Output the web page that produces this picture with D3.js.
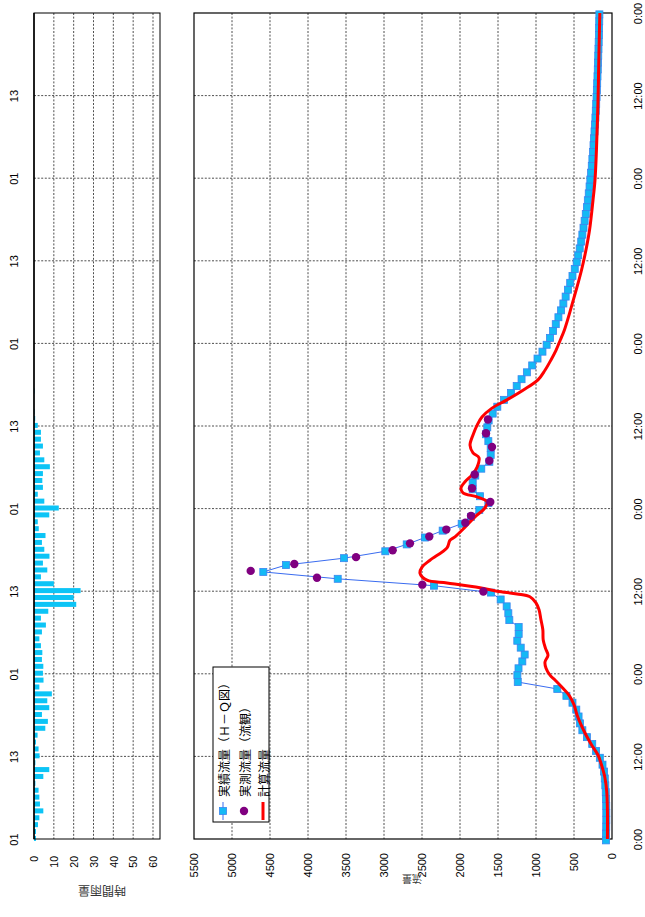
<!DOCTYPE html>
<html><head><meta charset="utf-8">
<script src="https://cdn.jsdelivr.net/npm/d3@7"></script>
<style>
html,body{margin:0;padding:0;background:#fff;}
svg{display:block;}
text{font-family:"Liberation Sans Narrow","Liberation Sans",Arial,sans-serif;fill:#000;}
.jp{font-family:"Noto Sans CJK JP",sans-serif;}
</style></head><body>
<svg id="c" width="645" height="917"></svg>
<script>
// ---------- data ----------
const timeTicks = [0,12,24,36,48,60,72,84,96,108,120];
const timeLabels = ["0:00","12:00","0:00","12:00","0:00","12:00","0:00","12:00","0:00","12:00","0:00"];
const rainTimeLabels = ["01","13","01","13","01","13","01","13","01","13",""];
const flowTicks = [0,500,1000,1500,2000,2500,3000,3500,4000,4500,5000,5500];
const rainTicks = [0,10,20,30,40,50,60];

// hourly rainfall (mm), hour 0 upward
const rain = [1,1,2,2.7,4.7,3,2.7,2.3,0.7,4.7,7.7,0.7,2.8,2.3,1,1.8,5.7,7,4,7.7,
  6.7,9,2.7,4.8,4.5,4.7,4,4.2,3.5,2.7,4,6,3.5,7.2,21.3,20,23.5,10,3.5,6.7,
  4.5,7.8,5.2,4,5.8,2.4,1.9,7.7,12.5,5.2,1.9,4.5,4.2,4.5,8,5.2,3,4.5,3.5,3.5,
  1.9,0.6,0.3,0,0,0.3];

// 実績流量 (H-Q), hourly from hour 0
const obsHQ = [80,78,76,75,75,76,78,82,88,95,105,125,160,210,260,330,390,420,440,470,
  520,600,720,1240,1245,1230,1180,1149,1201,1246,1228,1228,1351,1364,1386,1465,1592,2342,3609,4588,
  4289,3526,2983,2701,2461,2228,1978,1855,1746,1627,1737,1833,1833,1799,1720,1614,1596,1596,1627,1658,
  1641,1623,1570,1509,1421,1329,1254,1190,1120,1050,980,915,860,815,775,740,705,670,640,610,
  580,550,520,490,465,445,425,405,390,375,360,345,330,318,306,295,285,275,266,258,
  250,243,236,230,224,218,213,208,203,199,195,191,187,184,181,178,175,172,170,168,166];

// 実測流量 (流観)
const gaugeHours = [36,37,38,39,40,41,42,43,44,45,46,47,49,51,53,55,57,59,61];
const gaugeQ = [1693,2496,3882,4754,4180,3368,2886,2658,2404,2180,1930,1855,1601,1842,1807,1614,1579,1658,1632];

// 計算流量
const calcHours = [0,4,7,9,10,11,12.2,13.7,15.1,16.6,18,19.5,20.9,21.9,23.1,23.8,24.8,25.7,26.7,27.7,
  28.9,30.4,31.8,33.3,34.3,35.2,35.6,36,36.5,37.2,37.6,38.6,39.5,40.5,42.3,43.4,43.9,45.3,46.8,48.1,
  49,49.7,50.3,51,51.9,52.9,54,55.4,56.1,57.2,58.7,60.1,61.3,62.6,63.8,65.2,66.7,68.1,69.6,71,
  72.5,74,76.9,79.8,82.7,85.6,88.5,92.8,95.7,100,107.4,114.6,120];
const calcQ = [60,60,70,95,118,145,184,270,342,408,460,500,566,645,750,816,868,882,842,875,
  905,910,934,960,1000,1080,1250,1513,1737,2171,2434,2526,2500,2395,2171,2132,2066,1934,1803,1671,
  1645,1776,1961,1987,1934,1842,1776,1750,1829,1868,1829,1776,1711,1579,1382,1171,974,882,803,737,
  680,625,545,470,400,342,295,250,224,205,184,171,160];

const legendLabels = ["実績流量（Ｈ－Ｑ図）","実測流量（流観）","計算流量"];

// ---------- layout ----------
const svg = d3.select("#c");
const yT = d3.scaleLinear().domain([0,120]).range([839,13]);
const xQ = d3.scaleLinear().domain([0,5500]).range([612,194]);
const xR = d3.scaleLinear().domain([0,60]).range([34,153]);
const rainRight = 160;
const gridStyle = s => s.attr("stroke","#222").attr("stroke-width",0.8).attr("stroke-dasharray","2,1.6");

// ----- left (rain) panel -----
const gL = svg.append("g");
gL.append("g").selectAll("line").data(rainTicks.filter(d=>d>0)).join("line")
  .attr("x1",d=>xR(d)).attr("x2",d=>xR(d)).attr("y1",yT(120)).attr("y2",yT(0)).call(gridStyle);
gL.append("g").selectAll("line").data(timeTicks.filter(d=>d>0&&d<120)).join("line")
  .attr("x1",xR(0)).attr("x2",rainRight).attr("y1",d=>yT(d)).attr("y2",d=>yT(d)).call(gridStyle);
gL.append("g").selectAll("rect").data(rain).join("rect")
  .attr("x",xR(0)).attr("y",(d,i)=>yT(i+0.45))
  .attr("width",d=>xR(d)-xR(0)).attr("height",(d,i)=>yT(i-0.28)-yT(i+0.45))
  .attr("fill","#0cc4f6");
gL.append("rect").attr("x",xR(0)).attr("y",yT(120)).attr("width",rainRight-xR(0)).attr("height",yT(0)-yT(120))
  .attr("fill","none").attr("stroke","#000").attr("stroke-width",1);
gL.append("line").attr("x1",xR(0)).attr("x2",xR(0)).attr("y1",yT(120)).attr("y2",yT(0)).attr("stroke","#000").attr("stroke-width",1.5);

const axR = gL.append("g").attr("transform",`translate(0,${yT(0)})`)
  .call(d3.axisBottom(xR).tickValues(rainTicks).tickSize(0).tickFormat(d=>d));
axR.select(".domain").remove();
axR.selectAll("text").attr("transform","rotate(-90)").attr("x",-17).attr("y",0).attr("dy","0.35em")
  .attr("text-anchor","end").style("font-size","10.5px");

const axRT = gL.append("g").attr("transform",`translate(${xR(0)},0)`)
  .call(d3.axisLeft(yT).tickValues(timeTicks).tickSize(0).tickFormat((d,i)=>rainTimeLabels[i]));
axRT.select(".domain").remove();
axRT.selectAll("text").attr("transform","rotate(-90)").attr("x",0).attr("y",-20).attr("dy","0.35em")
  .attr("text-anchor","middle").style("font-size","11px");

svg.append("text").attr("class","jp").attr("transform",`translate(102,891) rotate(180)`)
  .attr("text-anchor","middle").attr("dominant-baseline","central").style("font-size","12px").style("fill","#333").text("時間雨量");

// ----- right (flow) panel -----
const gR = svg.append("g");
gR.append("g").selectAll("line").data(flowTicks.filter(d=>d>0&&d<5500)).join("line")
  .attr("x1",d=>xQ(d)).attr("x2",d=>xQ(d)).attr("y1",yT(120)).attr("y2",yT(0)).call(gridStyle);
gR.append("g").selectAll("line").data(timeTicks.filter(d=>d>0&&d<120)).join("line")
  .attr("x1",xQ(5500)).attr("x2",xQ(0)).attr("y1",d=>yT(d)).attr("y2",d=>yT(d)).call(gridStyle);
gR.append("rect").attr("x",xQ(5500)).attr("y",yT(120)).attr("width",xQ(0)-xQ(5500)).attr("height",yT(0)-yT(120))
  .attr("fill","none").attr("stroke","#000").attr("stroke-width",1.2);

const axQ = gR.append("g").attr("transform",`translate(0,${yT(0)})`)
  .call(d3.axisBottom(xQ).tickValues(flowTicks).tickSize(0).tickFormat(d=>d));
axQ.select(".domain").remove();
axQ.selectAll("text").attr("transform","rotate(-90)").attr("x",-14).attr("y",0).attr("dy","0.35em")
  .attr("text-anchor","end").style("font-size","11px");

const axT = gR.append("g").attr("transform",`translate(${xQ(0)},0)`)
  .call(d3.axisRight(yT).tickValues(timeTicks).tickSize(0).tickFormat((d,i)=>timeLabels[i]));
axT.select(".domain").remove();
axT.selectAll("text").attr("transform","rotate(-90)").attr("x",0).attr("y",26).attr("dy","0.35em")
  .attr("text-anchor","middle").style("font-size","11px");

svg.append("text").attr("class","jp").attr("transform",`translate(412,879) rotate(180)`)
  .attr("text-anchor","middle").attr("dominant-baseline","central").style("font-size","10px").style("fill","#333").text("流量");

// series
const obsPts = obsHQ.map((q,i)=>({h:i-0.2,q}));
gR.append("path").datum(obsPts).attr("fill","none").attr("stroke","#3a6cf0").attr("stroke-width",1)
  .attr("d",d3.line().x(d=>xQ(d.q)).y(d=>yT(d.h)));
gR.append("g").selectAll("rect").data(obsPts).join("rect")
  .attr("x",d=>xQ(d.q)-3.5).attr("y",d=>yT(d.h)-3.5).attr("width",7).attr("height",7)
  .attr("fill","#14b9f5").attr("stroke","#3a86f0").attr("stroke-width",0.8);

const calcPts = calcHours.map((h,i)=>({h,q:calcQ[i]}));
gR.append("path").datum(calcPts).attr("fill","none").attr("stroke","#ff0000").attr("stroke-width",3)
  .attr("stroke-linejoin","round")
  .attr("d",d3.line().x(d=>xQ(d.q)).y(d=>yT(d.h)).curve(d3.curveCatmullRom));

gR.append("g").selectAll("circle").data(gaugeHours).join("circle")
  .attr("cx",(h,i)=>xQ(gaugeQ[i])).attr("cy",h=>yT(h-0.05)).attr("r",4.2).attr("fill","#800080");

// legend
const lg = svg.append("g");
lg.append("rect").attr("x",213).attr("y",667).attr("width",56).attr("height",155)
  .attr("fill","#fff").attr("stroke","#000").attr("stroke-width",1);
const lx = [223,244,263];
lg.append("line").attr("x1",lx[0]).attr("x2",lx[0]).attr("y1",820).attr("y2",802).attr("stroke","#3a6cf0");
lg.append("rect").attr("x",lx[0]-3.5).attr("y",807.5).attr("width",7).attr("height",7).attr("fill","#14b9f5").attr("stroke","#3a86f0").attr("stroke-width",0.8);
lg.append("circle").attr("cx",lx[1]).attr("cy",811).attr("r",4.2).attr("fill","#800080");
lg.append("line").attr("x1",lx[2]).attr("x2",lx[2]).attr("y1",820).attr("y2",802).attr("stroke","#ff0000").attr("stroke-width",3);
lg.selectAll("text").data(legendLabels).join("text").attr("class","jp")
  .attr("transform",(d,i)=>`translate(${lx[i]},797) rotate(-90)`)
  .attr("dominant-baseline","central").style("font-size","12px").text(d=>d);
</script>
</body></html>
